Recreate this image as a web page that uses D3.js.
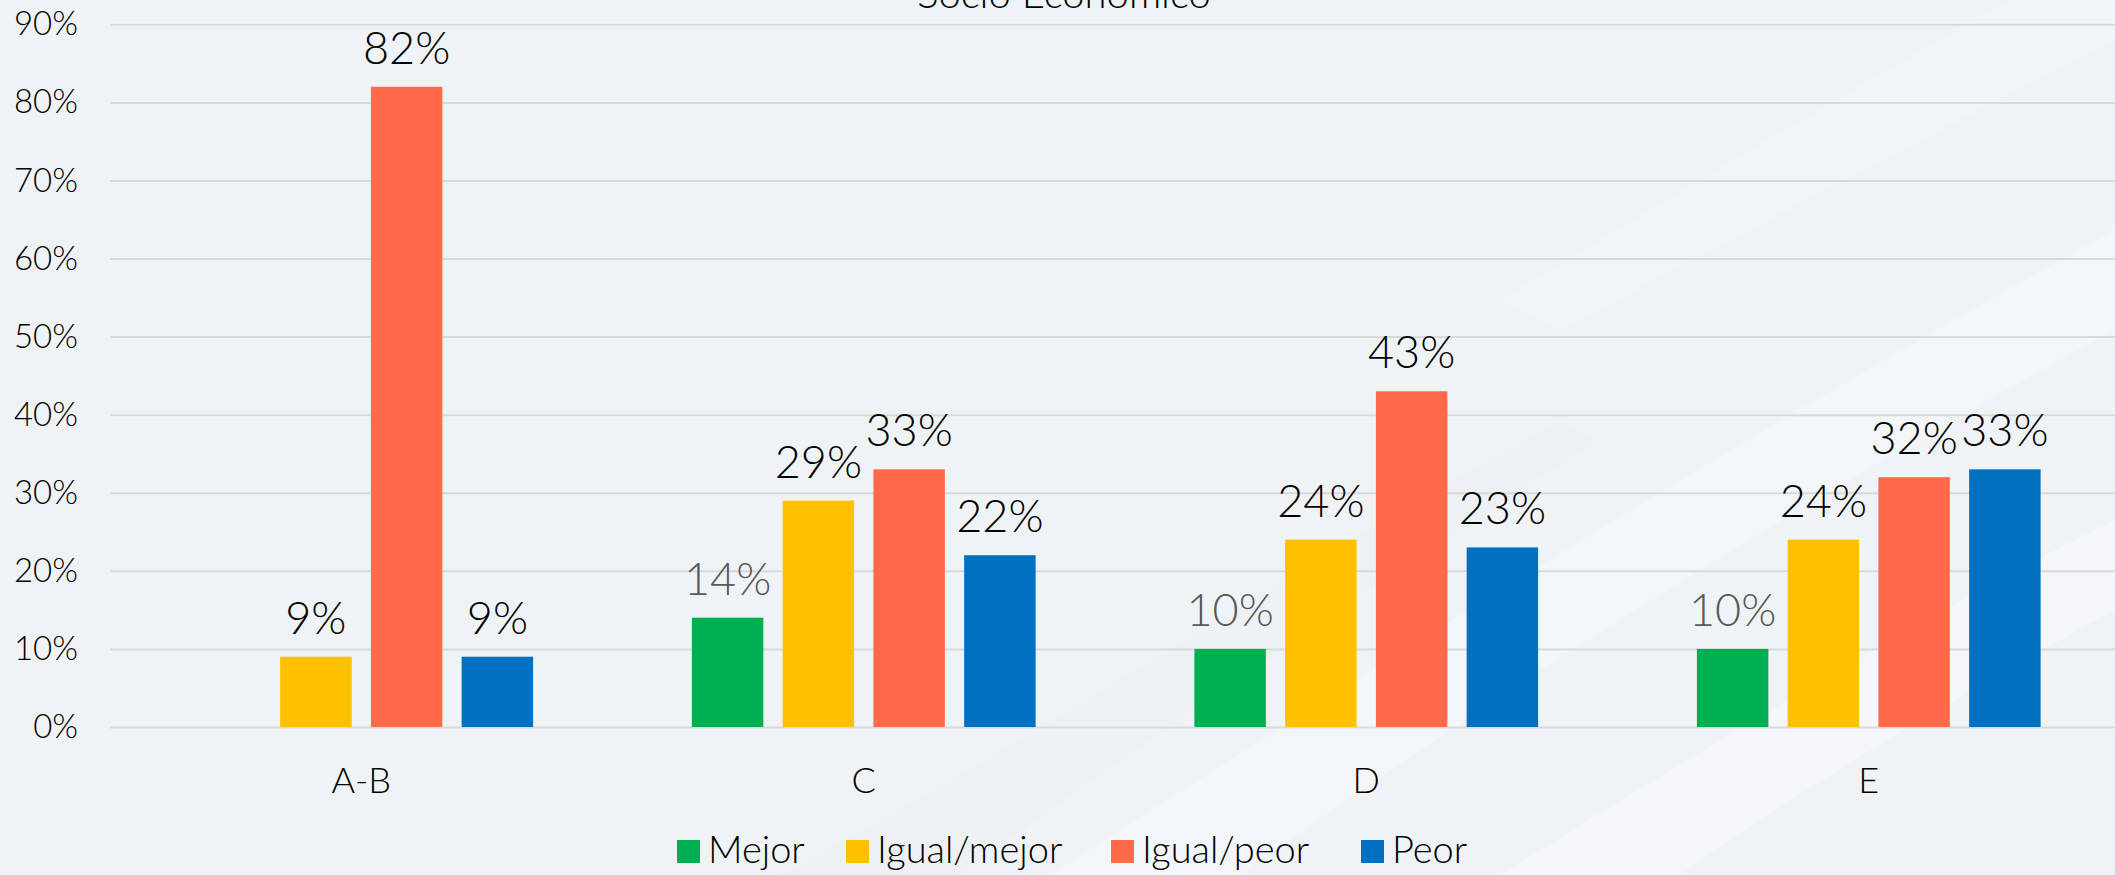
<!DOCTYPE html>
<html>
<head>
<meta charset="utf-8">
<script src="https://cdn.jsdelivr.net/npm/d3@7"></script>
<style>
  body { margin: 0; background: #eff3f6; }
  svg { display: block; font-family: "Century Gothic", "Lato", sans-serif; font-weight: 300; }
</style>
</head>
<body>
<div id="chart-area"></div>
<script>
const WIDTH = 2115;
const HEIGHT = 875;
const MARGIN = { LEFT: 110, RIGHT: -5, TOP: 24.3, BOTTOM: 148 };

// data
const categories = ["A-B", "C", "D", "E"];
const series = ["Mejor", "Igual/mejor", "Igual/peor", "Peor"];
const mejor = [null, 0.14, 0.10, 0.10];
const igualMejor = [0.09, 0.29, 0.24, 0.24];
const igualPeor = [0.82, 0.33, 0.43, 0.32];
const peor = [0.09, 0.22, 0.23, 0.33];
const yTicks = [0, 0.1, 0.2, 0.3, 0.4, 0.5, 0.6, 0.7, 0.8, 0.9];
const title = "Socio Económico";

const palette = ["#00b050", "#ffc000", "#ff6a4b", "#0070c0"];
const labelColors = ["#595959", "#000", "#000", "#000"];

const values = [mejor, igualMejor, igualPeor, peor];
const rows = [];
categories.forEach((c, ci) => {
  series.forEach((s, si) => {
    if (values[si][ci] !== null) rows.push({ cat: c, series: s, si: si, value: values[si][ci] });
  });
});

const svg = d3.select("#chart-area").append("svg")
  .attr("width", WIDTH)
  .attr("height", HEIGHT);

// background
svg.append("rect").attr("width", WIDTH).attr("height", HEIGHT).attr("fill", "#eff3f6");
const bg = svg.append("g").attr("fill", "#ffffff");
bg.append("path").attr("d", "M1050,875 C1400,650 1750,430 2115,230 L2115,330 C1800,500 1500,690 1240,875 Z").attr("opacity", 0.25);
bg.append("path").attr("d", "M1500,875 C1750,720 1950,600 2115,520 L2115,610 C1950,700 1800,790 1680,875 Z").attr("opacity", 0.3);
bg.append("path").attr("d", "M1500,300 C1700,180 1850,90 2010,0 L2115,0 L2115,40 C1900,150 1750,230 1560,330 Z").attr("opacity", 0.2);
bg.append("path").attr("d", "M780,875 C1100,700 1300,560 1560,420 L1600,440 C1350,600 1150,740 960,875 Z").attr("opacity", 0.15).attr("fill", "#e6eaee");

const innerW = WIDTH - MARGIN.LEFT - MARGIN.RIGHT;
const innerH = HEIGHT - MARGIN.TOP - MARGIN.BOTTOM;

const g = svg.append("g")
  .attr("transform", `translate(${MARGIN.LEFT}, ${MARGIN.TOP})`);

// scales
const x0 = d3.scaleBand()
  .domain(categories)
  .range([0, innerW])
  .paddingInner(0.2776)
  .paddingOuter(0.1388);
const x1 = d3.scaleBand()
  .domain(series)
  .range([0, x0.bandwidth()])
  .paddingInner(0.2125)
  .paddingOuter(0.10625);
const y = d3.scaleLinear().domain([0, 0.9]).range([innerH, 0]);

// y axis with gridlines
const yAxis = g.append("g")
  .call(d3.axisLeft(y)
    .tickValues(yTicks)
    .tickFormat(d3.format(".0%"))
    .tickSize(-(WIDTH - MARGIN.LEFT))
    .tickPadding(32));
yAxis.select(".domain").remove();
yAxis.selectAll(".tick line").attr("stroke", "#d9d9d9").attr("stroke-width", 2);
yAxis.selectAll(".tick text")
  .attr("font-size", "33px")
  .attr("fill", "#000")
  .attr("font-family", "Century Gothic, Lato, sans-serif");

// x axis
const xAxis = g.append("g")
  .attr("transform", `translate(0, ${innerH})`)
  .call(d3.axisBottom(x0).tickSize(0).tickPadding(40));
xAxis.select(".domain").remove();
xAxis.selectAll(".tick text")
  .attr("font-size", "36px")
  .attr("fill", "#000")
  .attr("font-family", "Century Gothic, Lato, sans-serif");

// bars
g.selectAll(".bar")
  .data(rows)
  .enter().append("rect")
  .attr("class", "bar")
  .attr("x", d => x0(d.cat) + x1(d.series))
  .attr("y", d => y(d.value))
  .attr("width", x1.bandwidth())
  .attr("height", d => innerH - y(d.value))
  .attr("fill", d => palette[d.si]);

// value labels
g.selectAll(".val")
  .data(rows)
  .enter().append("text")
  .attr("class", "val")
  .attr("x", d => x0(d.cat) + x1(d.series) + x1.bandwidth() / 2)
  .attr("y", d => y(d.value) - 23)
  .attr("text-anchor", "middle")
  .attr("font-size", "45px")
  .attr("fill", d => labelColors[d.si])
  .text(d => d3.format(".0%")(d.value));

// title (cut at top)
svg.append("text")
  .attr("x", 1064)
  .attr("y", 8)
  .attr("text-anchor", "middle")
  .attr("font-size", "40px")
  .attr("fill", "#000")
  .text(title);

// legend
const legendX = [677, 846, 1111, 1361];
const legend = svg.append("g").attr("transform", "translate(0, 863)");
series.forEach((s, i) => {
  legend.append("rect")
    .attr("x", legendX[i])
    .attr("y", -23)
    .attr("width", 23)
    .attr("height", 23)
    .attr("fill", palette[i]);
  legend.append("text")
    .attr("x", legendX[i] + 31)
    .attr("y", 0)
    .attr("font-size", "38px")
    .attr("fill", "#000")
    .text(s);
});
</script>
</body>
</html>
